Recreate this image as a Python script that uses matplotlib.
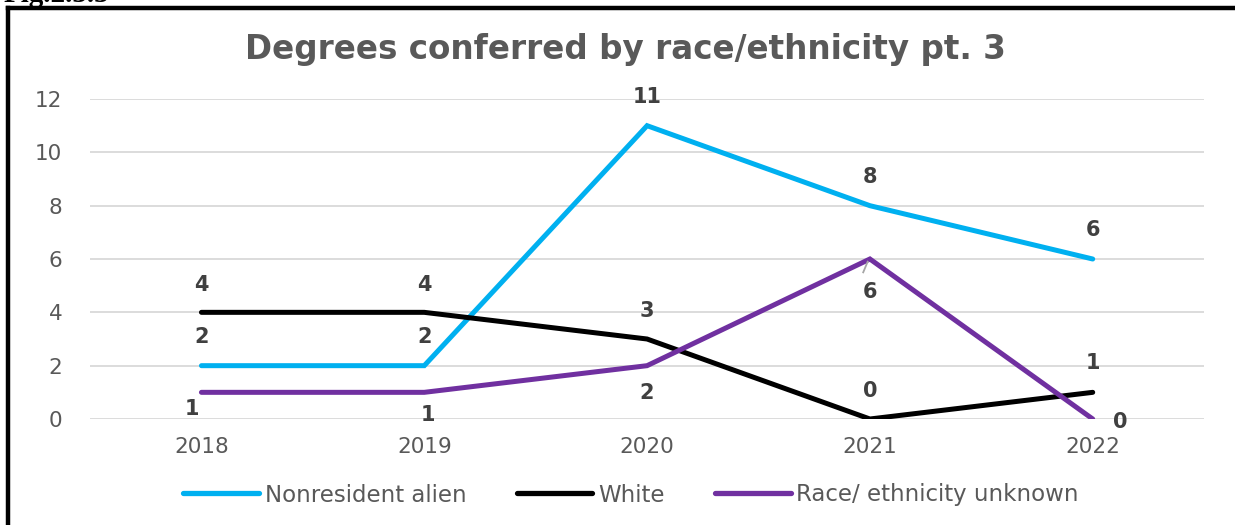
import matplotlib
matplotlib.use('Agg')
import matplotlib.pyplot as plt
from matplotlib.lines import Line2D

years = ['2018', '2019', '2020', '2021', '2022']
nonresident = [2, 2, 11, 8, 6]
white = [4, 4, 3, 0, 1]
unknown = [1, 1, 2, 6, 0]
labels = ['Nonresident alien', 'White', 'Race/ ethnicity unknown']
colors = ['#00B0F0', '#000000', '#7030A0']

# label offsets in points (dx, dy), style only
off_nonres = [(0, 21), (0, 21), (0, 21), (0, 21), (0, 21)]
off_white = [(0, 20), (0, 20), (0, 20), (0, 20), (0, 21)]
off_unknown = [(-7, -12), (3, -16), (0, -20), (0, -24), (20, -2)]

fig = plt.figure(figsize=(12.35, 5.25), dpi=100)
ax = fig.add_axes([0.0729, 0.2019, 0.9021, 0.6095])

x = [i + 0.5 for i in range(len(years))]
series = [nonresident, white, unknown]
offsets = [off_nonres, off_white, off_unknown]

for vals, col, lab in zip(series, colors, labels):
    ax.plot(x, vals, color=col, lw=3.6, solid_capstyle='round',
            solid_joinstyle='miter', label=lab, zorder=3)

for vals, offs in zip(series, offsets):
    for xi, v, (dx, dy) in zip(x, vals, offs):
        ax.annotate(str(v), (xi, v), xytext=(dx, dy), textcoords='offset points',
                    ha='center', va='center', fontsize=15, fontweight='bold',
                    color='#404040', family='DejaVu Sans', zorder=4)

# leader line for the 2021 unknown label
ax.plot([x[3] - 0.01, x[3] - 0.03], [5.9, 5.5], color='#A6A6A6', lw=1.3, zorder=4)

ax.set_xlim(0, 5)
ax.set_ylim(0, 12)
ax.set_yticks(range(0, 13, 2))
ax.set_xticks(x)
ax.set_xticklabels(years)
ax.tick_params(length=0, labelsize=15.5, labelcolor='#595959', pad=13)
ax.tick_params(axis='y', pad=20)
ax.grid(axis='y', color='#D9D9D9', lw=1.3, zorder=0)
for s in ax.spines.values():
    s.set_visible(False)

fig.text(625 / 1235, 1 - 50 / 525, 'Degrees conferred by race/ethnicity pt. 3',
         ha='center', va='center', fontsize=23.5, fontweight='bold',
         color='#595959', family='DejaVu Sans')

handles = [Line2D([], [], color=c, lw=3.8, solid_capstyle='round') for c in colors]
fig.legend(handles, labels, loc='center', bbox_to_anchor=(631 / 1235, 1 - 495 / 525),
           ncol=3, frameon=False, handlelength=3.3, handletextpad=0.25,
           columnspacing=2.2, prop={'family': 'DejaVu Sans', 'size': 16.5},
           labelcolor='#595959')

# frame pieces around the figure
fig.add_artist(Line2D([8 / 1235, 8 / 1235], [0, 1 - 8 / 525], color='black', lw=3.2))
fig.add_artist(Line2D([8 / 1235, 1], [1 - 8 / 525, 1 - 8 / 525], color='black', lw=3.2))
fig.text(4 / 1235, 1 - 2 / 525, 'Fig.2.3.3', ha='left', va='baseline',
         fontsize=21, fontweight='bold', family='Liberation Serif')

fig.savefig('out.png', dpi=100)
